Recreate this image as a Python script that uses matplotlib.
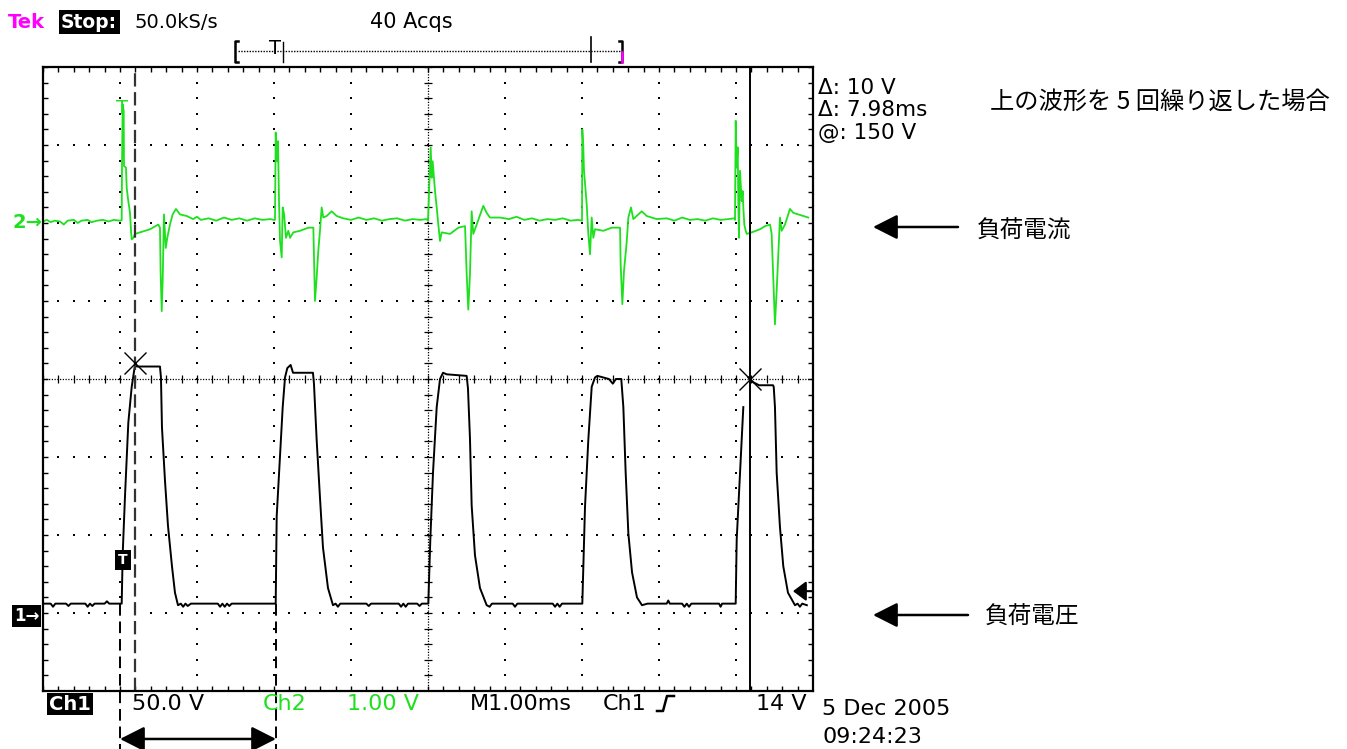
import numpy as np
import matplotlib.pyplot as plt

W, H = 1347, 749
GREEN = '#1fe01f'
MAGENTA = '#ff00ff'

# Ch1 = load voltage, time in ms, volts (50 V/div, ground 3 div below centre)
ch1_t = [0.00, 0.10, 0.13, 0.16, 0.30, 0.33, 0.36, 0.55, 0.58, 0.61, 0.64, 0.67, 0.80, 0.83, 0.86, 1.01,
         1.022, 1.035, 1.065, 1.108, 1.152, 1.195, 1.22, 1.519,
         1.532, 1.545, 1.584, 1.623, 1.675, 1.714, 1.753,
         1.79, 1.82, 1.85, 1.88, 1.92, 2.27, 2.30, 2.33, 2.36, 2.39, 2.42, 2.45, 3.01,
         3.022, 3.035, 3.078, 3.113, 3.143, 3.173, 3.216, 3.247, 3.506,
         3.519, 3.554, 3.597, 3.636, 3.701, 3.766,
         3.80, 3.83, 3.86, 4.20, 4.23, 4.26, 4.62, 4.65, 4.68, 4.71, 4.74, 4.86, 4.89, 4.92, 4.99,
         5.004, 5.030, 5.065, 5.113, 5.156, 5.195, 5.243, 5.502,
         5.519, 5.545, 5.567, 5.610, 5.675, 5.762,
         5.80, 5.83, 6.10, 6.13, 6.16, 6.62, 6.65, 6.68, 6.71, 6.74, 6.99,
         7.004, 7.039, 7.082, 7.126, 7.169, 7.20, 7.35, 7.40, 7.44, 7.51,
         7.537, 7.567, 7.602, 7.650, 7.714, 7.779,
         7.85, 8.10, 8.12, 8.14, 8.30, 8.33, 8.36, 8.39, 8.42, 8.78, 8.80, 8.82, 8.99,
         8.996, 9.009, 9.052, 9.095, np.nan, 9.16, 9.22, 9.30, 9.48,
         9.49, 9.506, 9.528, 9.571, 9.614, 9.675, 9.766, 9.80, 9.83, 9.86, 9.92]
ch1_v = [6, 6, 4, 6, 6, 4.5, 6, 6, 4, 6, 4.5, 6, 6, 7.5, 6, 6,
         6, 38, 75, 122, 145, 159, 158, 158,
         151, 119, 85, 56, 30, 13, 5,
         6, 4, 6, 4.5, 6, 6, 4, 6, 4, 6, 4.5, 6, 6,
         6, 62, 100, 132, 151, 157, 159, 154, 154,
         147, 111, 74, 42, 16, 5,
         6, 4, 6, 6, 4.5, 6, 6, 4, 6, 4, 6, 6, 4.5, 6, 6,
         6, 47, 90, 132, 150, 154, 153, 152,
         144, 112, 69, 37, 16, 5,
         4, 6, 6, 4, 6, 6, 4, 6, 4, 6, 6,
         6, 68, 111, 145, 151, 152, 150, 147, 150, 150,
         132, 90, 51, 26, 10, 5,
         6, 6, 8, 6, 6, 4, 6, 4, 6, 6, 4, 6, 6,
         6, 47, 90, 132, np.nan, 151, 148, 146, 146,
         145, 132, 90, 55, 30, 13, 5, 6, 4, 6, 5]

# Ch2 = load current (probe output), volts (1 V/div, ground 2 div above centre)
ch2_t = [0.00, 0.05, 0.10, 0.15, 0.22, 0.27, 0.32, 0.40, 0.45, 0.50, 0.58, 0.63, 0.70, 0.78, 0.85, 0.92, 1.00,
         1.022, 1.026, 1.035, 1.048, 1.052, 1.078, 1.087, 1.108, 1.130, 1.143, 1.152, 1.173, 1.195, 1.260,
         1.390, 1.497, 1.519, 1.528, 1.542, 1.555, 1.571, 1.594, 1.614, 1.649, 1.684, 1.727, 1.779, 1.866,
         1.95, 2.00, 2.05, 2.15, 2.25, 2.35, 2.45, 2.55, 2.65, 2.75, 2.85, 2.95, 3.00,
         3.013, 3.022, 3.039, 3.052, 3.065, 3.078, 3.100, 3.113, 3.130, 3.156, 3.186, 3.208, 3.251, 3.338,
         3.446, 3.511, 3.524, 3.532, 3.554, 3.575, 3.597, 3.619, 3.640, 3.684, 3.749, 3.814,
         3.90, 4.00, 4.10, 4.20, 4.30, 4.40, 4.50, 4.60, 4.70, 4.80, 4.90, 4.98,
         5.000, 5.035, 5.048, 5.061, 5.091, 5.113, 5.134, 5.156, 5.178, 5.286, 5.394, 5.481,
         5.502, 5.523, 5.545, 5.567, 5.588, 5.632, 5.718, 5.762, 5.805, 5.935,
         6.05, 6.15, 6.25, 6.35, 6.45, 6.55, 6.65, 6.75, 6.85, 6.95,
         7.000, 7.004, 7.017, 7.026, 7.061, 7.082, 7.104, 7.126, 7.147, 7.169, 7.277, 7.386, 7.494,
         7.502, 7.524, 7.545, 7.580, 7.602, 7.636, 7.667, 7.775, 7.840, 7.970,
         8.10, 8.20, 8.30, 8.40, 8.50, 8.60, 8.70, 8.80, 8.90, 8.98,
         8.987, 8.996, 9.009, 9.022, 9.030, 9.039, 9.052, 9.074, 9.087, 9.095, 9.108, 9.126, 9.139,
         9.204, 9.312, 9.377, 9.442, 9.463, 9.485, 9.506, 9.528, 9.549, 9.571, 9.593, 9.636, 9.701,
         9.745, 9.810, 9.939]
ch2_v = [0.02, 0.04, 0.01, 0.03, 0.02, -0.02, 0.03, 0.04, 0.00, 0.03, 0.04, 0.01, 0.03, 0.04, 0.02, 0.04, 0.03,
         0.035, 0.73, 1.52, 1.44, 0.73, 0.71, 0.45, 0.28, 0.13, -0.10, -0.21, -0.19, -0.14, -0.12,
         -0.08, -0.02, -0.06, -0.66, -1.13, -0.70, 0.11, -0.32, -0.19, -0.02, 0.11, 0.18, 0.11, 0.09,
         0.05, 0.08, 0.04, 0.06, 0.03, 0.07, 0.04, 0.06, 0.03, 0.06, 0.04, 0.05, 0.04,
         0.04, 1.16, 0.79, 1.05, 0.28, -0.23, -0.44, 0.20, 0.12, -0.19, -0.10, -0.19, -0.12, -0.10,
         -0.06, -0.06, -0.62, -1.00, -0.70, -0.36, -0.10, 0.20, 0.07, 0.09, 0.15, 0.09,
         0.06, 0.04, 0.07, 0.04, 0.06, 0.03, 0.05, 0.06, 0.03, 0.05, 0.04, 0.05,
         0.03, 0.97, 0.58, 0.79, 0.41, 0.20, -0.02, -0.23, -0.12, -0.14, -0.06, -0.04,
         -0.64, -1.11, -0.66, 0.15, -0.14, -0.02, 0.22, 0.13, 0.07, 0.07,
         0.05, 0.08, 0.04, 0.06, 0.03, 0.05, 0.04, 0.06, 0.03, 0.04,
         0.03, 1.20, 0.97, 0.67, 0.24, -0.14, -0.40, 0.07, -0.19, -0.08, -0.10, -0.06, -0.06,
         -0.53, -1.04, -0.62, -0.25, 0.07, 0.20, 0.05, 0.15, 0.09, 0.05,
         0.06, 0.03, 0.07, 0.04, 0.05, 0.03, 0.06, 0.04, 0.05, 0.06,
         0.04, 1.31, 0.71, 0.97, 0.28, -0.19, 0.67, 0.28, 0.41, 0.20, -0.02, -0.10, -0.14,
         -0.12, -0.08, -0.04, -0.02, -0.14, -0.74, -1.30, -0.87, -0.40, 0.07, -0.10, -0.02, 0.18,
         0.13, 0.11, 0.07]

ch1_scale, ch2_scale = 50.0, 1.00   # V/div
ch1_gnd, ch2_gnd = -3, 2            # div
trig_level = 14                     # V on ch1
cursor_t = [1.20, 9.18]             # ms
cursor_v = [160, 150]               # V on ch1
period_t = [1.00, 3.026]            # ms, marked rising edges

plt.rcParams['font.family'] = ['DejaVu Sans']
fig = plt.figure(figsize=(W / 100, H / 100), dpi=100)
ax = fig.add_axes([43 / W, 1 - 691 / H, 770 / W, 624 / H])
ax.set_xlim(0, 10)
ax.set_ylim(-4, 4)
ax.set_xticks([])
ax.set_yticks([])
for sp in ax.spines.values():
    sp.set_linewidth(1.6)


def ftext(px, py, s, **kw):
    kw.setdefault('va', 'center')
    kw.setdefault('ha', 'left')
    return fig.text(px / W, 1 - py / H, s, **kw)


# graticule dots
xs_minor = np.arange(0, 10.001, 0.2)
ys_minor = np.arange(-4, 4.001, 0.2)
gx, gy = [], []
for xv in range(1, 10):
    if xv != 5:
        gx += [xv] * len(ys_minor)
        gy += list(ys_minor)
for yv in range(-3, 4):
    if yv != 0:
        gx += list(xs_minor)
        gy += [yv] * len(xs_minor)
ax.plot(gx, gy, ls='none', marker='s', ms=1.6, mew=0, color='k')

# centre lines with ticks
ax.axvline(5, color='k', lw=0.9, ls=(0, (1, 1.2)))
ax.axhline(0, color='k', lw=0.9, ls=(0, (1, 1.2)))
ax.plot(xs_minor, np.zeros_like(xs_minor), ls='none', marker='|', ms=6, mew=0.9, color='k')
ax.plot(np.full_like(ys_minor, 5), ys_minor, ls='none', marker='_', ms=6, mew=0.9, color='k')
# edge ticks
ax.plot(xs_minor, np.full_like(xs_minor, 4), ls='none', marker='|', ms=7, mew=1, color='k')
ax.plot(xs_minor, np.full_like(xs_minor, -4), ls='none', marker='|', ms=7, mew=1, color='k')
ax.plot(np.zeros_like(ys_minor), ys_minor, ls='none', marker='_', ms=7, mew=1, color='k')
ax.plot(np.full_like(ys_minor, 10), ys_minor, ls='none', marker='_', ms=7, mew=1, color='k')

# traces
ax.plot(ch2_t, np.array(ch2_v) / ch2_scale + ch2_gnd, color=GREEN, lw=1.3)
ax.plot(ch1_t, np.array(ch1_v) / ch1_scale + ch1_gnd, color='k', lw=1.4)

# cursors
ax.axvline(cursor_t[0], color='#333333', lw=1.6, ls=(0, (6, 2.5)))
ax.axvline(cursor_t[1], color='k', lw=1.4)
ax.plot(cursor_t, np.array(cursor_v) / ch1_scale + ch1_gnd, ls='none', marker='x',
        ms=16, mew=1, color='k')

# trigger level marker on the right edge
ty = trig_level / ch1_scale + ch1_gnd
ax.annotate('', xy=(9.74, ty), xytext=(10, ty), annotation_clip=False,
            arrowprops=dict(arrowstyle='-|>,head_length=0.4,head_width=0.3',
                            color='k', lw=1.5, mutation_scale=20, shrinkA=0, shrinkB=0))

# period markers below the screen
y_low = ch1_v[0] / ch1_scale + ch1_gnd
for t in period_t:
    ax.plot([t, t], [y_low, -4.8], color='k', lw=1.4, ls=(0, (6, 3)), clip_on=False)
ax.annotate('', xy=(period_t[0], -4.615), xytext=(period_t[1], -4.615), annotation_clip=False,
            arrowprops=dict(arrowstyle='<|-|>,head_length=0.75,head_width=0.38',
                            color='k', lw=1.8, mutation_scale=20, shrinkA=0, shrinkB=0))

# left markers
ftext(13, 222, '2\u2192', color=GREEN, fontsize=14, weight='bold')
ftext(14, 616, '1\u2192', color='white', fontsize=12, weight='bold',
      bbox=dict(facecolor='black', edgecolor='none', pad=1.5))
ftext(123, 560, 'T', ha='center', color='white', fontsize=10, weight='bold',
      bbox=dict(facecolor='black', edgecolor='none', pad=2))
ftext(122.5, 109, 'T', ha='center', color=GREEN, fontsize=14)

# header
ftext(8, 22, 'Tek', color=MAGENTA, fontsize=14, weight='bold')
ftext(61, 22, 'Stop:', color='white', fontsize=13.5, weight='bold',
      bbox=dict(facecolor='black', edgecolor='none', pad=1.8))
ftext(135, 22, '50.0kS/s', fontsize=14)
ftext(370, 22, '40 Acqs', fontsize=15)

# record bar
bar = fig.add_axes([0, 0, 1, 1], facecolor='none')
bar.set_xlim(0, W)
bar.set_ylim(H, 0)
bar.axis('off')
bar.plot([238, 620], [51, 51], color='k', lw=1, ls=(0, (1, 1)))
bar.plot([238, 235, 235, 238], [41, 41, 62, 62], color='k', lw=1.8)
bar.plot([619, 622, 622, 619], [41, 41, 62, 62], color='k', lw=1.8)
bar.plot([622, 622], [52, 62], color=MAGENTA, lw=1.8)
bar.plot([283, 283], [42, 62], color='k', lw=1)
bar.plot([591, 591], [37, 62], color='k', lw=1.2)
bar.text(275, 49, 'T', ha='center', va='center', fontsize=14)
# trigger slope glyph
bar.plot([657, 663, 667, 674], [711, 711, 696, 696], color='k', lw=1.8)

# cursor readouts
ftext(818, 88, '\u0394: 10 V', fontsize=15.5)
ftext(818, 110, '\u0394: 7.98ms', fontsize=15.5)
ftext(818, 133, '@: 150 V', fontsize=15.5)

# footer
ftext(49, 704, 'Ch1', color='white', fontsize=14, weight='bold',
      bbox=dict(facecolor='black', edgecolor='none', pad=1.2))
ftext(132, 704, '50.0 V', fontsize=16)
ftext(263, 704, 'Ch2', color=GREEN, fontsize=16)
ftext(347, 704, '1.00 V', color=GREEN, fontsize=16)
ftext(470, 704, 'M1.00ms', fontsize=16)
ftext(603, 704, 'Ch1', fontsize=16)
ftext(756, 704, '14 V', fontsize=16)
ftext(822, 709, '5 Dec 2005', fontsize=16)
ftext(822, 737, '09:24:23', fontsize=16)

# Japanese annotations
jp = ['Noto Sans CJK JP', 'DejaVu Sans']
ftext(990, 102, '上の波形を 5 回繰り返した場合', fontsize=17.5, family=jp)
ftext(977, 231, '負荷電流', fontsize=17, family=jp)
ftext(985, 617, '負荷電圧', fontsize=17, family=jp)
for yy, x0 in [(227, 958), (615, 968)]:
    bar.annotate('', xy=(873, yy), xytext=(x0, yy),
                 arrowprops=dict(arrowstyle='-|>,head_length=0.75,head_width=0.38',
                                 color='k', lw=1.8, mutation_scale=20, shrinkA=0, shrinkB=0))

fig.savefig('out.png', dpi=100)
